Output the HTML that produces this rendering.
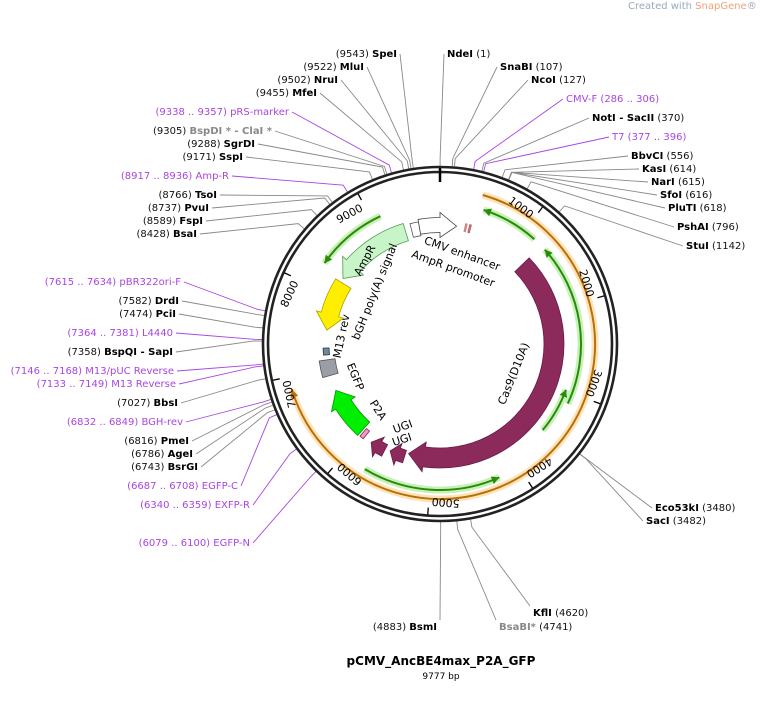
<!DOCTYPE html>
<html><head><meta charset="utf-8">
<style>
html,body{margin:0;padding:0;background:#fff;}
svg{display:block;}
text{font-family:"DejaVu Sans","Liberation Sans",sans-serif;font-size:10px;}
.b{font-weight:bold;fill:#000;}
.n{fill:#111;}
.p{fill:#a946e0;}
.g{fill:#888;font-weight:bold;}
</style></head>
<body>
<svg id="s" width="760" height="702" viewBox="0 0 760 702" xmlns="http://www.w3.org/2000/svg">
<text x="628" y="9" style="font-size:10px;fill:#9ab;">Created with <tspan fill="#f3a07a">SnapGene</tspan>®</text>
<g id="lines"></g>
<circle cx="440" cy="344" r="177" fill="none" stroke="#222" stroke-width="2.6"/>
<circle cx="440" cy="344" r="172" fill="none" stroke="#222" stroke-width="2.6"/>
<line x1="440" y1="168" x2="440" y2="182" stroke="#000" stroke-width="2.5"/>
<g id="feat"></g>
<g id="lab"></g>
<text x="441" y="665" text-anchor="middle" style="font-size:12px;font-weight:bold;">pCMV_AncBE4max_P2A_GFP</text>
<text x="441" y="679" text-anchor="middle" style="font-size:9px;">9777 bp</text>
</svg>
<script>
var NS="http://www.w3.org/2000/svg",cx=440,cy=344,L=9777;
function P(r,deg){var a=deg*Math.PI/180;return [cx+r*Math.sin(a),cy-r*Math.cos(a)];}
function D(p){return p/L*360;}
function el(par,tag,at,txt){var e=document.createElementNS(NS,tag);for(var k in at)e.setAttribute(k,at[k]);if(txt!=null)e.textContent=txt;document.getElementById(par).appendChild(e);return e;}
function arcPath(r,a1,a2){var p1=P(r,a1),p2=P(r,a2);var sw=a2>a1?1:0;var lg=Math.abs(a2-a1)>180?1:0;return "M"+p1[0]+","+p1[1]+" A"+r+","+r+" 0 "+lg+" "+sw+" "+p2[0]+","+p2[1];}
function thin(r,a1,a2,col,glow){
 el("feat","path",{d:arcPath(r,a1,a2),fill:"none",stroke:glow,"stroke-width":7,opacity:0.45});
 el("feat","path",{d:arcPath(r,a1,a2),fill:"none",stroke:col,"stroke-width":2});
 var dir=a2>a1?1:-1;var t=P(r,a2),b1=P(r-4,a2-dir*3),b2=P(r+4,a2-dir*3);
 el("feat","path",{d:"M"+t+" L"+b1+" L"+b2+"Z",fill:col});
}
function thick(r,w,a1,a2,fill,stroke,head,hf){
 var dir=a2>a1?1:-1,hl=head?Math.min(8,Math.abs(a2-a1)*(hf||0.5)):0;var a3=a2-dir*hl;
 var ro=r+w/2,ri=r-w/2;
 var o1=P(ro,a1),o2=P(ro,a3),i2=P(ri,a3),i1=P(ri,a1);
 var sw=dir>0?1:0,sw2=dir>0?0:1,lg=Math.abs(a3-a1)>180?1:0;
 var d="M"+o1+" A"+ro+","+ro+" 0 "+lg+" "+sw+" "+o2;
 if(head){var h1=P(ro+5,a3),t=P(r,a2),h2=P(ri-5,a3);d+=" L"+h1+" L"+t+" L"+h2+" L"+i2;}else d+=" L"+i2;
 d+=" A"+ri+","+ri+" 0 "+lg+" "+sw2+" "+i1+"Z";
 el("feat","path",{d:d,fill:fill,stroke:stroke,"stroke-width":0.8});
}
thin(155,16,253,"#b8700a","#ffc060");
thin(141,42,18,"#2a8a0a","#80e060");
thin(141,115,48,"#2a8a0a","#80e060");
thin(134,130,110,"#2a8a0a","#80e060");
thin(146,211,156,"#2a8a0a","#80e060");
thin(141,335,305,"#2a8a0a","#80e060");
thick(114,20,46,196,"#8c2a5c","#6a1a44",true);
thick(118,13,197.5,205,"#8c2a5c","#6a1a44",true,0.55);
thick(120,13,207.5,215,"#8c2a5c","#6a1a44",true,0.55);
thick(117,10,221,219,"#e8a0c0","#8c2a5c",false);
thick(114,18,222,246,"#00ee00","#009900",true);
thick(114,16,254,262,"#9a9ea6","#555",false);
thick(114,6,264.5,268,"#6a8aa0","#333",false);
thick(114,18,302,277,"#ffee00","#b0a000",true);
thick(117,18,343,304,"#c8f5c8","#559955",true);
thick(117,14,346,350,"#fff","#555",false);
thick(119,15,350,368,"#fff","#444",true);
thick(119,8,372,372.8,"#c88","#c88",false);
thick(119,8,374,374.8,"#c88","#a55",false);
for(var k=1;k<=9;k++){var a=D(k*1000),p=P(158,a),top=(a<90||a>270),rot=top?a:a-180;if(rot>180)rot-=360;
 el("feat","text",{x:p[0],y:p[1]+4,dx:top?-3:3,"text-anchor":top?"end":"start",style:"font-size:11px",transform:"rotate("+rot+" "+p[0]+" "+p[1]+")"},""+k*1000);
 var q1=P(171,a),q2=P(164,a);el("feat","line",{x1:q1[0],y1:q1[1],x2:q2[0],y2:q2[1],stroke:"#000","stroke-width":1.3});}
function ft(x,y,rot,t){el("feat","text",{x:x,y:y,"text-anchor":"middle",transform:"rotate("+rot+" "+x+" "+y+")",style:"font-size:11px"},t);}
ft(461,257,20,"CMV enhancer");ft(452,272,20,"AmpR promoter");ft(368,262,-62,"AmpR");ft(378,293,-68,"bGH poly(A) signal");
ft(345,337,-78,"M13 rev");ft(352,378,68,"EGFP");ft(375,412,58,"P2A");ft(404,430,-20,"UGI");ft(403,443,-18,"UGI");ft(517,375,-68,"Cas9(D10A)");
var S=[
["R",447,57,1,[["b","NdeI"],["n","  (1)"]]],
["R",500,70,107,[["b","SnaBI"],["n","  (107)"]]],
["R",531,83,127,[["b","NcoI"],["n","  (127)"]]],
["R",566,102,296,[["p","CMV-F"],["p","  (286 .. 306)"]]],
["R",592,121,370,[["b","NotI"],["b"," - SacII"],["n","  (370)"]]],
["R",612,140,386,[["p","T7"],["p","  (377 .. 396)"]]],
["R",631,159,556,[["b","BbvCI"],["n","  (556)"]]],
["R",642,172,614,[["b","KasI"],["n","  (614)"]]],
["R",651,185,615,[["b","NarI"],["n","  (615)"]]],
["R",660,198,616,[["b","SfoI"],["n","  (616)"]]],
["R",668,211,618,[["b","PluTI"],["n","  (618)"]]],
["R",677,230,796,[["b","PshAI"],["n","  (796)"]]],
["R",686,249,1142,[["b","StuI"],["n","  (1142)"]]],
["R",655,511,3480,[["b","Eco53kI"],["n","  (3480)"]]],
["R",646,524,3482,[["b","SacI"],["n","  (3482)"]]],
["R",533,616,4620,[["b","KflI"],["n","  (4620)"]]],
["R",499,630,4741,[["g","BsaBI*"],["n","  (4741)"]]],
["L",437,630,4883,[["n","(4883)  "],["b","BsmI"]]],
["L",397,57,9543,[["n","(9543)  "],["b","SpeI"]]],
["L",364,70,9522,[["n","(9522)  "],["b","MluI"]]],
["L",338,83,9502,[["n","(9502)  "],["b","NruI"]]],
["L",317,96,9455,[["n","(9455)  "],["b","MfeI"]]],
["L",289,115,9347,[["p","(9338 .. 9357)  pRS-marker"]]],
["L",272,134,9305,[["n","(9305)  "],["g","BspDI * - ClaI *"]]],
["L",255,147,9288,[["n","(9288)  "],["b","SgrDI"]]],
["L",243,160,9171,[["n","(9171)  "],["b","SspI"]]],
["L",229,179,8926,[["p","(8917 .. 8936)  Amp-R"]]],
["L",217,198,8766,[["n","(8766)  "],["b","TsoI"]]],
["L",209,211,8737,[["n","(8737)  "],["b","PvuI"]]],
["L",203,224,8589,[["n","(8589)  "],["b","FspI"]]],
["L",197,237,8428,[["n","(8428)  "],["b","BsaI"]]],
["L",181,285,7625,[["p","(7615 .. 7634)  pBR322ori-F"]]],
["L",179,304,7582,[["n","(7582)  "],["b","DrdI"]]],
["L",176,317,7474,[["n","(7474)  "],["b","PciI"]]],
["L",173,336,7372,[["p","(7364 .. 7381)  L4440"]]],
["L",173,355,7358,[["n","(7358)  "],["b","BspQI"],["b","  - SapI"]]],
["L",174,374,7157,[["p","(7146 .. 7168)  M13/pUC Reverse"]]],
["L",176,387,7141,[["p","(7133 .. 7149)  M13 Reverse"]]],
["L",178,406,7027,[["n","(7027)  "],["b","BbsI"]]],
["L",183,425,6840,[["p","(6832 .. 6849)  BGH-rev"]]],
["L",189,444,6816,[["n","(6816)  "],["b","PmeI"]]],
["L",193,457,6786,[["n","(6786)  "],["b","AgeI"]]],
["L",198,470,6743,[["n","(6743)  "],["b","BsrGI"]]],
["L",238,489,6697,[["p","(6687 .. 6708)  EGFP-C"]]],
["L",250,508,6350,[["p","(6340 .. 6359)  EXFP-R"]]],
["L",250,546,6090,[["p","(6079 .. 6100)  EGFP-N"]]]
];
S.forEach(function(s){
 var t=el("lab","text",{x:s[1],y:s[2],"text-anchor":s[0]=="R"?"start":"end","xml:space":"preserve"});
 s[4].forEach(function(pt){var ts=document.createElementNS(NS,"tspan");ts.setAttribute("class",pt[0]);ts.textContent=pt[1];t.appendChild(ts);});
 var purple=s[4][0][0]=="p";var a=D(s[3]),c=P(178,a),c2=P(186,a);
 var lx,ly=s[2]-3;
 if(s[2]>600){lx=s[0]=="R"?s[1]-3:s[1]+3;ly=s[2]-10;}
 else lx=s[0]=="R"?s[1]-3:s[1]+3;
 var col=purple?"#a946e0":"#888";
 el("lines","polyline",{points:lx+","+ly+" "+c2[0]+","+c2[1]+" "+c[0]+","+c[1],fill:"none",stroke:col,"stroke-width":0.9});
});
</script>
</body></html>
